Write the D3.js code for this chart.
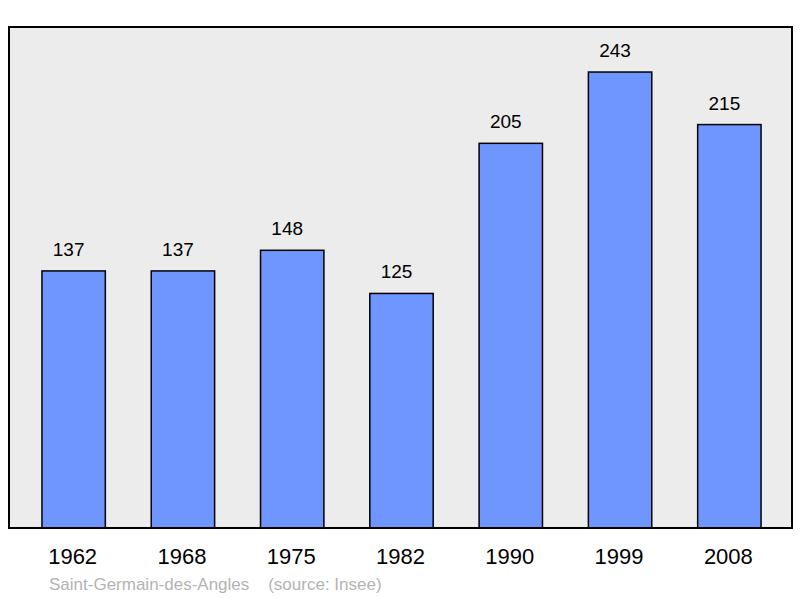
<!DOCTYPE html>
<html>
<head>
<meta charset="utf-8">
<script src="https://cdn.jsdelivr.net/npm/d3@7"></script>
<style>
  body { margin: 0; background: #fff; }
  text { font-family: "Liberation Sans", Arial, sans-serif; }
</style>
</head>
<body>
<div id="chart"></div>
<script>
// population data
var years = ['1962', '1968', '1975', '1982', '1990', '1999', '2008'];
var population = [137, 137, 148, 125, 205, 243, 215];
var caption = 'Saint-Germain-des-Angles    (source: Insee)';

var width = 800, height = 598;

var svg = d3.select('#chart').append('svg')
    .attr('width', width)
    .attr('height', height);

var x = d3.scaleBand()
    .domain(years)
    .range([19, 784])
    .paddingInner(0.42)
    .paddingOuter(0.21);

var y = d3.scaleLinear()
    .domain([0, 267])
    .range([528, 27]);

// plot background
svg.append('rect')
    .attr('x', 9).attr('y', 27)
    .attr('width', 783).attr('height', 501)
    .attr('fill', '#ececec')
    .attr('stroke', '#000')
    .attr('stroke-width', 2);

svg.selectAll('.bar')
    .data(population)
    .enter()
    .append('rect')
    .attr('class', 'bar')
    .attr('x', function(d, i) { return x(years[i]); })
    .attr('y', function(d) { return y(d); })
    .attr('width', x.bandwidth())
    .attr('height', function(d) { return y(0) - y(d); })
    .attr('fill', '#6f96ff')
    .attr('stroke', '#000')
    .attr('stroke-width', 1.5);

// value labels sit a bit left of the bar centre
svg.selectAll('.val')
    .data(population)
    .enter()
    .append('text')
    .attr('class', 'val')
    .attr('x', function(d, i) { return x(years[i]) + x.bandwidth() / 2 - 5; })
    .attr('y', function(d) { return y(d) - 15; })
    .attr('text-anchor', 'middle')
    .attr('font-size', 19)
    .text(function(d) { return d; });

svg.append('line')
    .attr('x1', 9).attr('x2', 792)
    .attr('y1', 528).attr('y2', 528)
    .attr('stroke', '#000').attr('stroke-width', 2);

svg.selectAll('.year')
    .data(years)
    .enter()
    .append('text')
    .attr('class', 'year')
    .attr('x', function(d) { return x(d) + x.bandwidth() / 2 - 1; })
    .attr('y', 564)
    .attr('text-anchor', 'middle')
    .attr('font-size', 22)
    .text(function(d) { return d; });

svg.append('text')
    .attr('x', 49).attr('y', 590)
    .attr('font-size', 17)
    .attr('fill', '#b3b3b3')
    .attr('xml:space', 'preserve')
    .style('white-space', 'pre')
    .text(caption);
</script>
</body>
</html>
